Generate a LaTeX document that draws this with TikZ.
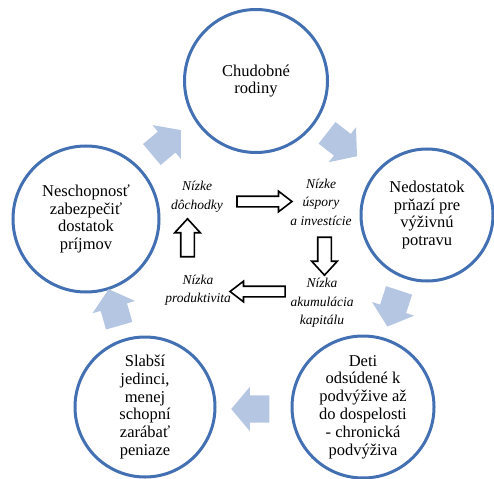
\documentclass[tikz,border=0pt]{standalone}
\usepackage{fontspec}
\setmainfont{Liberation Serif}
\usetikzlibrary{shapes,arrows,calc}
\definecolor{ringblue}{RGB}{66,112,178}
\definecolor{arrowblue}{RGB}{181,198,227}
\tikzset{
	ring/.style    = {draw=ringblue, line width=3pt, circle, align=center,
		inner sep=0pt, font=\fontsize{16.5}{17.8}\selectfont},
	cause/.style   = {align=center, font=\fontsize{13.5}{18.5}\selectfont\itshape},
	flow/.style    = {single arrow, fill=arrowblue, inner xsep=0pt, inner ysep=13.5pt,
		minimum height=38pt, single arrow head extend=8.5pt, single arrow tip angle=100},
	hollow/.style  = {single arrow, draw, line width=1.6pt, fill=white, inner xsep=0pt,
		inner ysep=4.5pt, minimum height=55pt, single arrow head extend=5pt,
		single arrow tip angle=75},
	vhollow/.style = {hollow, inner ysep=6pt, minimum height=38pt,
		single arrow head extend=6pt, single arrow tip angle=85}
}

\begin{document}
\begin{tikzpicture}[x=1pt, y=-1pt]
	\useasboundingbox (0,0) rectangle (494,478);
	
	% the five circles of the cycle
	\draw
	node at (256,81) [ring, minimum size=143pt] (c1) {Chudobné\\rodiny}
	node at (427,215) [ring, minimum size=132pt] (c2) {Nedostatok\\prňazí pre\\výživnú\\potravu}
	node at (363,407) [ring, minimum size=142pt] (c3) {Deti\\odsúdené k\\podvýžive až\\do dospelosti\\- chronická\\podvýživa}
	node at (145,407) [ring, minimum size=140pt] (c4) {Slabší\\jedinci,\\menej\\schopní\\zarábať\\peniaze}
	node at (86,219) [ring, minimum size=146pt] (c5) {Neschopnosť\\zabezpečiť\\dostatok\\príjmov};
	
	% inner loop
	\draw
	node at (197,197) [cause] (t1) {Nízke\\dôchodky}
	node at (321,202) [cause] (t2) {Nízke\\úspory\\a investície}
	node at (322,303) [cause] (t3) {Nízka\\akumulácia\\kapitálu}
	node at (198,290) [cause] (t4) {Nízka\\produktivita};
	
	\draw
	node at ($(t1)!0.5!(t2)+(2,2)$) [hollow] (h1) {}
	node at ($(t2)!0.5!(t3)+(3,0)$) [vhollow, rotate=-90] (h2) {}
	node at ($(t3)!0.5!(t4)+(1,-5)$) [hollow, rotate=180] (h3) {}
	node at ($(t4)!0.5!(t1)+(-10,-2)$) [vhollow, rotate=90] (h4) {};
	
	% arrows between the circles
	\draw
	node at ($(c5)!0.5!(c1)+(-9,-4)$) [flow, rotate=40] (f1) {}
	node at ($(c1)!0.5!(c2)+(-4,-7)$) [flow, rotate=-38] (f2) {}
	node at ($(c2)!0.5!(c3)+(0,-8)$) [flow, rotate=-108] (f3) {}
	node at ($(c3)!0.5!(c4)+(2,2)$) [flow, rotate=180] (f4) {}
	node at ($(c4)!0.5!(c5)$) [flow, rotate=106] (f5) {};
	
\end{tikzpicture}
\end{document}
